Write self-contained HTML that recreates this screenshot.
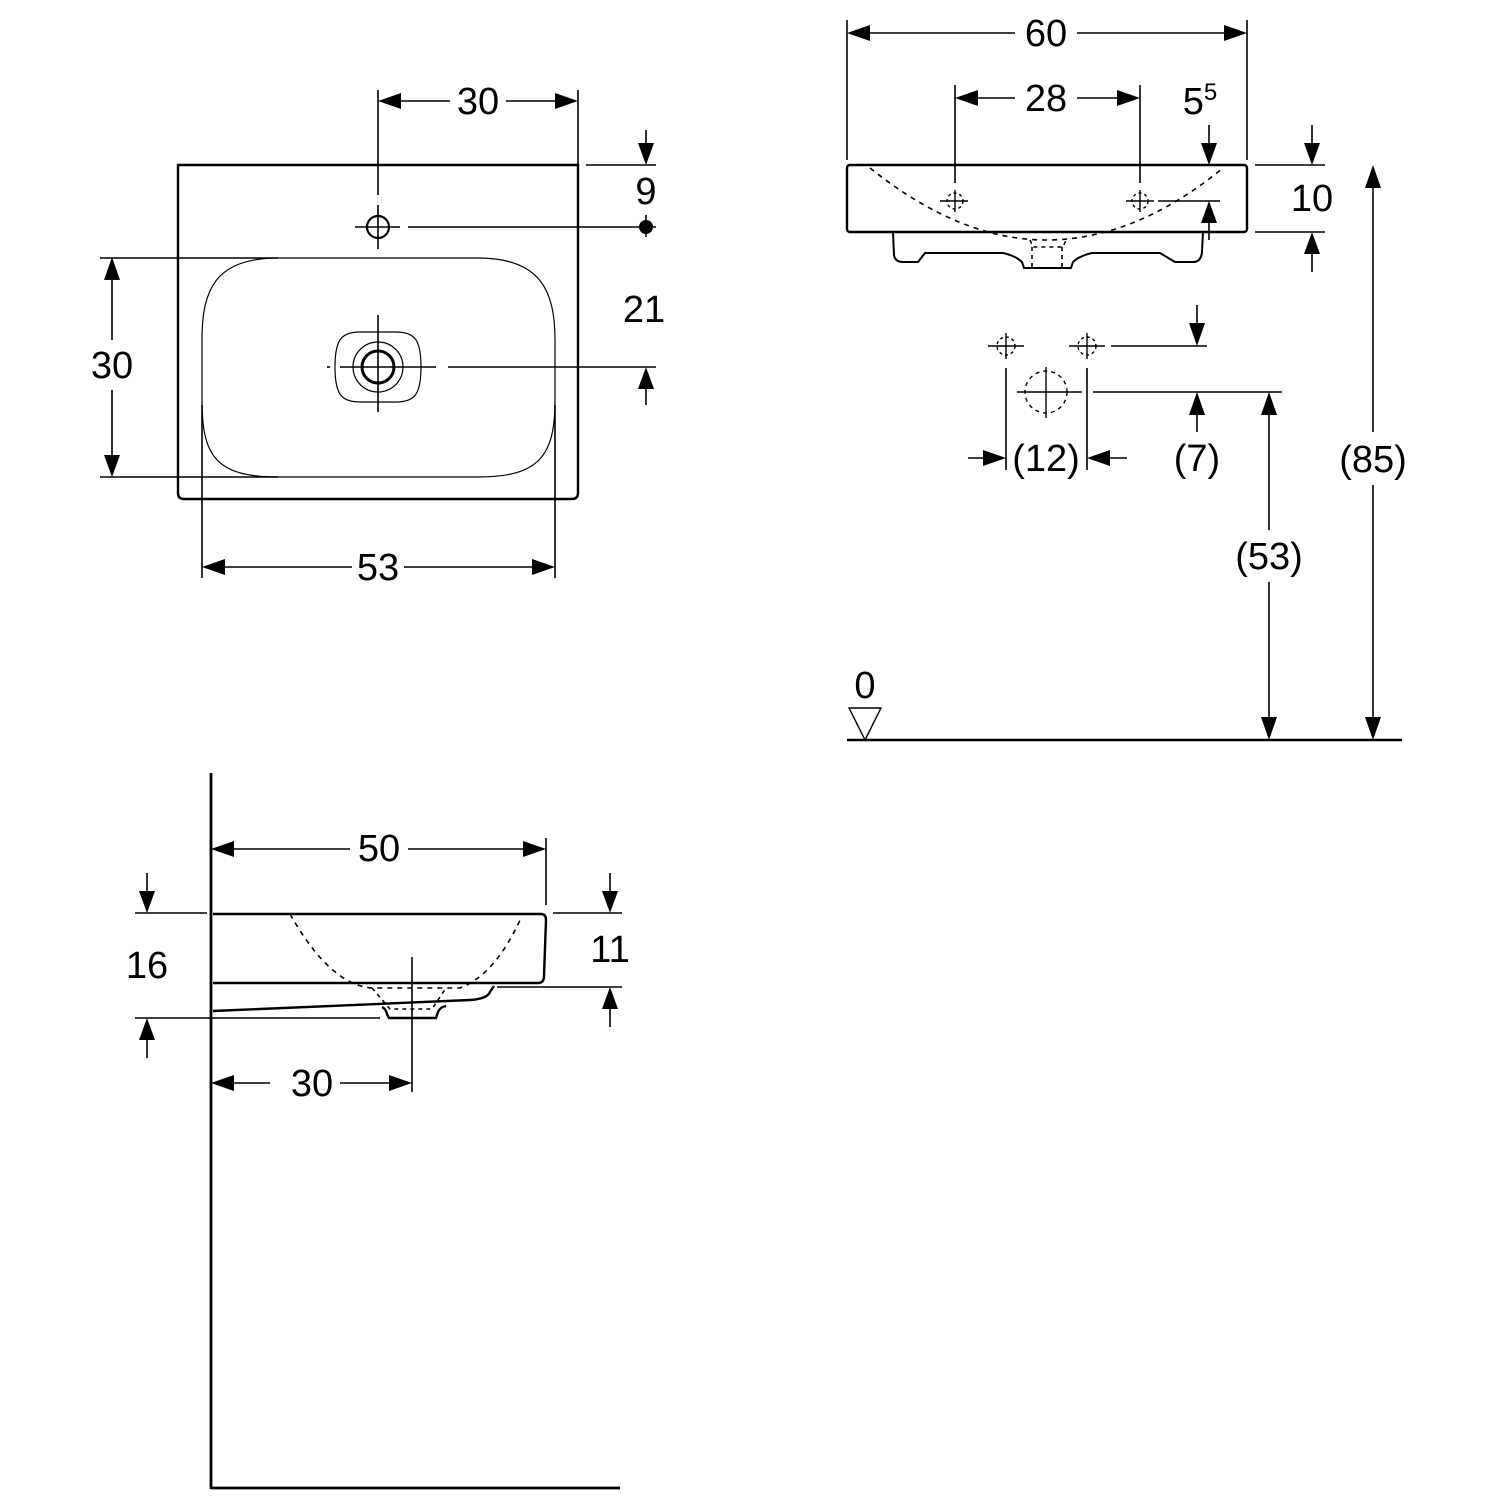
<!DOCTYPE html>
<html><head><style>html,body{margin:0;padding:0;background:#fff}svg{display:block}</style></head><body>
<svg width="1500" height="1500" viewBox="0 0 1500 1500" xmlns="http://www.w3.org/2000/svg" font-family="Liberation Sans, sans-serif" font-size="38" fill="none" stroke="#000">
<g stroke-width="1.6">
<!-- TOP-LEFT VIEW -->
<path d="M178,165 L578,165 L578,493 Q578,499 572,499 L184,499 Q178,499 178,493 Z" stroke-width="2.4"/>
<path d="M278,258 L478,258 C540,258 555,290 555,340 L555,400 C555,455 540,477 478,477 L278,477 C215,477 202,455 202,400 L202,340 C202,290 215,258 278,258Z" stroke-width="1.2"/>
<line x1="100" y1="258" x2="278" y2="258"/>
<line x1="100" y1="477" x2="278" y2="477"/>
<line x1="112" y1="280" x2="112" y2="340"/>
<line x1="112" y1="390" x2="112" y2="455"/>
<line x1="202" y1="405" x2="202" y2="578"/>
<line x1="555" y1="405" x2="555" y2="578"/>
<line x1="224" y1="567" x2="352" y2="567"/>
<line x1="404" y1="567" x2="533" y2="567"/>
<line x1="378" y1="90" x2="378" y2="195"/>
<line x1="378" y1="205" x2="378" y2="249"/>
<line x1="355" y1="227" x2="400" y2="227"/>
<circle cx="378" cy="227" r="11" stroke-width="2.2"/>
<line x1="408" y1="227" x2="656" y2="227"/>
<line x1="578" y1="90" x2="578" y2="165"/>
<line x1="400" y1="101" x2="450" y2="101"/>
<line x1="506" y1="101" x2="556" y2="101"/>
<line x1="586" y1="165" x2="656" y2="165"/>
<line x1="646" y1="130" x2="646" y2="150"/>
<line x1="646" y1="215" x2="646" y2="237"/>
<line x1="448" y1="367" x2="656" y2="367"/>
<line x1="646" y1="385" x2="646" y2="405"/>
<path d="M360,332 L396,332 C415,332 421,340 421,367 C421,394 415,402 396,402 L360,402 C341,402 335,394 335,367 C335,340 341,332 360,332Z" stroke-width="1.2"/>
<circle cx="378" cy="367" r="25" stroke-width="1.2"/>
<circle cx="378" cy="367" r="16" stroke-width="3"/>
<line x1="378" y1="315" x2="378" y2="412"/>
<line x1="340" y1="367" x2="436" y2="367"/>
<line x1="327" y1="367" x2="330" y2="367"/>

<!-- TOP-RIGHT VIEW -->
<line x1="847" y1="20" x2="847" y2="160"/>
<line x1="1247" y1="20" x2="1247" y2="160"/>
<line x1="869" y1="33" x2="1015" y2="33"/>
<line x1="1077" y1="33" x2="1225" y2="33"/>
<line x1="955" y1="85" x2="955" y2="183"/>
<line x1="1140" y1="85" x2="1140" y2="183"/>
<line x1="977" y1="98" x2="1015" y2="98"/>
<line x1="1077" y1="98" x2="1118" y2="98"/>
<rect x="847" y="165" width="400" height="67" rx="3" stroke-width="2.4"/>
<path d="M870,168 Q960,240 1046,240 Q1135,240 1223,168" stroke-dasharray="5,5"/>
<path d="M1030,240 L1033,247 L1063,247 L1066,240 M1032,247 L1032,268 M1062,247 L1062,268" stroke-dasharray="4,4"/>
<path d="M893,232 L894,255 Q895,262 903,262 L918,262 L925,253 L1003,253 Q1016,256 1022,262 L1024,268 L1071,268 L1073,262 Q1079,256 1092,253 L1160,253 L1175,262 L1193,262 Q1201,262 1202,252 L1203,232" stroke-width="2"/>
<g stroke-width="1.4">
<line x1="940" y1="201" x2="968" y2="201"/><line x1="955" y1="190" x2="955" y2="212"/><circle cx="955" cy="201" r="8" stroke-dasharray="3,3"/>
<line x1="1126" y1="201" x2="1154" y2="201"/><line x1="1140" y1="190" x2="1140" y2="212"/><circle cx="1140" cy="201" r="8" stroke-dasharray="3,3"/>
</g>
<line x1="1158" y1="201" x2="1220" y2="201"/>
<line x1="1209" y1="125" x2="1209" y2="145"/>
<line x1="1209" y1="223" x2="1209" y2="240"/>
<line x1="1255" y1="165" x2="1325" y2="165"/>
<line x1="1255" y1="232" x2="1325" y2="232"/>
<line x1="1312" y1="125" x2="1312" y2="145"/>
<line x1="1312" y1="252" x2="1312" y2="272"/>
<line x1="1373" y1="187" x2="1373" y2="432"/>
<line x1="1373" y1="485" x2="1373" y2="718"/>
<line x1="1269" y1="414" x2="1269" y2="530"/>
<line x1="1269" y1="582" x2="1269" y2="718"/>
<line x1="847" y1="740" x2="1402" y2="740" stroke-width="2.6"/>
<path d="M849,708 L881,708 L865,740 Z" stroke-width="1.4"/>
<g stroke-width="1.4">
<line x1="988" y1="346" x2="1024" y2="346"/><line x1="1006" y1="333" x2="1006" y2="359"/><circle cx="1006" cy="346" r="9" stroke-dasharray="3,3"/>
<line x1="1069" y1="346" x2="1105" y2="346"/><line x1="1087" y1="333" x2="1087" y2="359"/><circle cx="1087" cy="346" r="9" stroke-dasharray="3,3"/>
<circle cx="1046" cy="392" r="21" stroke-dasharray="4,4"/>
<line x1="1017" y1="392" x2="1082" y2="392"/><line x1="1046" y1="367" x2="1046" y2="418"/>
</g>
<line x1="1111" y1="346" x2="1207" y2="346"/>
<line x1="1093" y1="392" x2="1282" y2="392"/>
<line x1="1197" y1="305" x2="1197" y2="325"/>
<line x1="1197" y1="413" x2="1197" y2="432"/>
<line x1="1006" y1="368" x2="1006" y2="470"/>
<line x1="1087" y1="368" x2="1087" y2="470"/>
<line x1="968" y1="458" x2="985" y2="458"/>
<line x1="1108" y1="458" x2="1127" y2="458"/>

<!-- BOTTOM VIEW -->
<line x1="211" y1="773" x2="211" y2="1489" stroke-width="2.8"/>
<line x1="211" y1="1488" x2="620" y2="1488" stroke-width="2.8"/>
<line x1="233" y1="849" x2="350" y2="849"/>
<line x1="408" y1="849" x2="524" y2="849"/>
<line x1="546" y1="838" x2="546" y2="905"/>
<path d="M213,914 L541,914 Q546,914 546,920 L544,976 Q544,983 538,983 L213,983" stroke-width="2.4"/>
<path d="M213,1011 L470,1000 Q487,999 490,992 L494,986" stroke-width="2.4"/>
<path d="M382,1007 Q386,1009 387,1014 L389,1018 L436,1018 L438,1012 Q440,1007 446,1006" stroke-width="2.4"/>
<path d="M290,914 Q330,985 372,988 L460,988 Q495,975 521,918" stroke-dasharray="5,5"/>
<path d="M372,988 L390,1009 L432,1009 L446,988" stroke-dasharray="4,4"/>
<line x1="135" y1="913" x2="207" y2="913"/>
<line x1="553" y1="913" x2="622" y2="913"/>
<line x1="135" y1="1018" x2="380" y2="1018"/>
<line x1="497" y1="987" x2="622" y2="987"/>
<line x1="147" y1="873" x2="147" y2="893"/>
<line x1="147" y1="1040" x2="147" y2="1058"/>
<line x1="610" y1="873" x2="610" y2="893"/>
<line x1="610" y1="1009" x2="610" y2="1027"/>
<line x1="412" y1="957" x2="412" y2="1092"/>
<line x1="233" y1="1083" x2="270" y2="1083"/>
<line x1="340" y1="1083" x2="390" y2="1083"/>
</g>

<!-- ARROWHEADS -->
<g fill="#000" stroke="none">
<polygon points="112,257 104,280 120,280"/><polygon points="112,477 104,455 120,455"/>
<polygon points="202,567 225,559 225,575"/><polygon points="555,567 532,559 532,575"/>
<polygon points="378,101 401,93 401,109"/><polygon points="578,101 555,93 555,109"/>
<polygon points="646,165 638,143 654,143"/><circle cx="646" cy="227" r="7"/>
<polygon points="646,367 638,389 654,389"/>
<polygon points="847,33 870,25 870,41"/><polygon points="1247,33 1224,25 1224,41"/>
<polygon points="955,98 978,90 978,106"/><polygon points="1140,98 1117,90 1117,106"/>
<polygon points="1209,165 1201,143 1217,143"/><polygon points="1209,201 1201,223 1217,223"/>
<polygon points="1312,165 1304,143 1320,143"/><polygon points="1312,232 1304,254 1320,254"/>
<polygon points="1373,165 1365,188 1381,188"/><polygon points="1373,740 1365,717 1381,717"/>
<polygon points="1269,392 1261,415 1277,415"/><polygon points="1269,740 1261,717 1277,717"/>
<polygon points="1197,346 1189,323 1205,323"/><polygon points="1197,392 1189,415 1205,415"/>
<polygon points="1006,458 983,450 983,466"/><polygon points="1087,458 1110,450 1110,466"/>
<polygon points="211,849 234,841 234,857"/><polygon points="546,849 523,841 523,857"/>
<polygon points="147,913 139,891 155,891"/><polygon points="147,1018 139,1040 155,1040"/>
<polygon points="610,913 602,891 618,891"/><polygon points="610,987 602,1009 618,1009"/>
<polygon points="211,1083 234,1075 234,1091"/><polygon points="412,1083 389,1075 389,1091"/>
</g>

<!-- TEXT -->
<g fill="#000" stroke="none" text-anchor="middle">
<text x="112" y="378">30</text>
<text x="478" y="114">30</text>
<text x="646" y="204">9</text>
<text x="644" y="322">21</text>
<text x="378" y="580">53</text>
<text x="1046" y="46">60</text>
<text x="1046" y="111">28</text>
<text x="1200" y="114">5<tspan font-size="24" dy="-14">5</tspan></text>
<text x="1312" y="211">10</text>
<text x="1373" y="472">(85)</text>
<text x="1269" y="569">(53)</text>
<text x="1046" y="471">(12)</text>
<text x="1197" y="471">(7)</text>
<text x="865" y="698">0</text>
<text x="379" y="861">50</text>
<text x="147" y="978">16</text>
<text x="610" y="962">11</text>
<text x="312" y="1096">30</text>
</g>
</svg>
</body></html>
